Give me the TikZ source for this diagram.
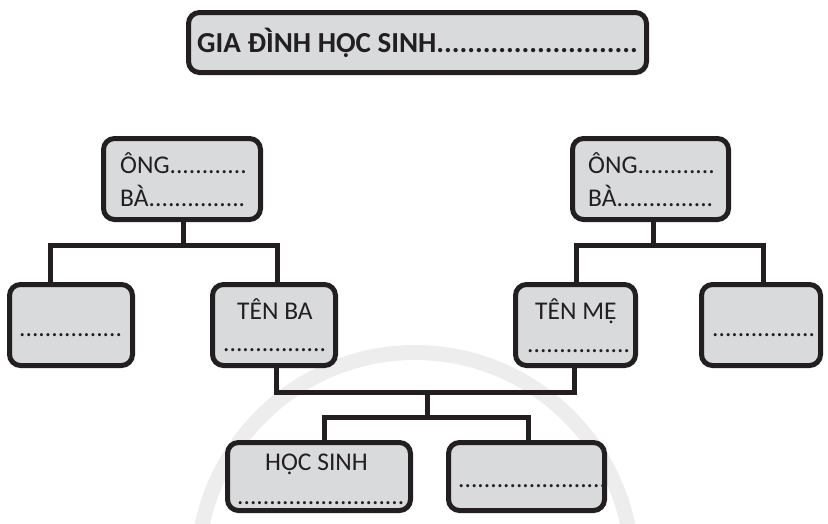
\documentclass[tikz,border=0pt]{standalone}
\usepackage{fontspec}
\setmainfont{Carlito}
\definecolor{boxfill}{HTML}{D9DADC}
\definecolor{ink}{HTML}{231F20}
\begin{document}
\begin{tikzpicture}[x=1pt,y=-1pt,
  box/.style={draw=ink, line width=5pt, fill=boxfill, rounded corners=11pt, inner sep=0pt},
  conn/.style={draw=ink, line width=5pt},
  txt/.style={anchor=base west, inner sep=0pt, text=ink, font=\fontsize{25.5}{30}\selectfont},
  ttl/.style={anchor=base west, inner sep=0pt, text=ink, font=\bfseries\fontsize{29}{34}\selectfont}]
\useasboundingbox (0,0) rectangle (828,523);
\begin{scope}
  \clip (0,0) rectangle (828,523);
  \draw[line width=15pt, color=black!7] (415,570) circle (217.5);
\end{scope}

% boxes
\node[box, minimum width=458pt, minimum height=60pt] (title) at (417.5,42.5) {};
\node[box, minimum width=157pt, minimum height=81pt] (gpL) at (182,179) {};
\node[box, minimum width=156pt, minimum height=81pt] (gpR) at (650.5,179) {};
\node[box, minimum width=123pt, minimum height=81pt] (b1) at (71,325) {};
\node[box, minimum width=123pt, minimum height=81pt] (ba) at (274,325) {};
\node[box, minimum width=120pt, minimum height=81pt] (me) at (575.5,325) {};
\node[box, minimum width=119pt, minimum height=81pt] (b4) at (761,325) {};
\node[box, minimum width=183pt, minimum height=68pt] (hs) at (319,476.5) {};
\node[box, minimum width=156pt, minimum height=68pt] (k2) at (526.5,476.5) {};

% junctions
\coordinate (jL) at (183,245);
\coordinate (jL1) at (50,245);
\coordinate (jL2) at (277,245);
\coordinate (jR) at (653,245);
\coordinate (jR1) at (576,245);
\coordinate (jR2) at (763,245);
\coordinate (jB1) at (276,392);
\coordinate (jB2) at (574,392);
\coordinate (jM) at (427,392);
\coordinate (jK) at (427,417);
\coordinate (jK1) at (324,417);
\coordinate (jK2) at (528,417);

% connectors
\draw[conn] (gpL.south -| jL) -- (jL);
\draw[conn] (jL1 |- b1.north) -- (jL1) -- (jL2) -- (jL2 |- ba.north);
\draw[conn] (gpR.south -| jR) -- (jR);
\draw[conn] (jR1 |- me.north) -- (jR1) -- (jR2) -- (jR2 |- b4.north);
\draw[conn] (jB1 |- ba.south) -- (jB1) -- (jB2) -- (jB2 |- me.south);
\draw[conn] (jM) -- (jK);
\draw[conn] (jK1 |- hs.north) -- (jK1) -- (jK2) -- (jK2 |- k2.north);

% texts
\node[ttl] (tt) at (197,52) {GIA ĐÌNH HỌC SINH..........................};
\node[txt] (ongL) at (120,173) {ÔNG............};
\node[txt] (baL) at (120,206) {BÀ...............};
\node[txt] (ongR) at (588,173) {ÔNG............};
\node[txt] (baR) at (588,206) {BÀ...............};
\node[txt] (d1) at (19,336) {................};
\node[txt] (tba) at (237,319) {TÊN BA};
\node[txt] (dba) at (223,351) {................};
\node[txt] (tme) at (535,319) {TÊN MẸ};
\node[txt] (dme) at (527,352) {................};
\node[txt] (d4) at (712,336) {................};
\node[txt] (ths) at (265,470) {HỌC SINH};
\node[txt] (dhs) at (237,504) {..........................};
\node[txt] (dk2) at (458,487) {.......................};
\end{tikzpicture}
\end{document}
